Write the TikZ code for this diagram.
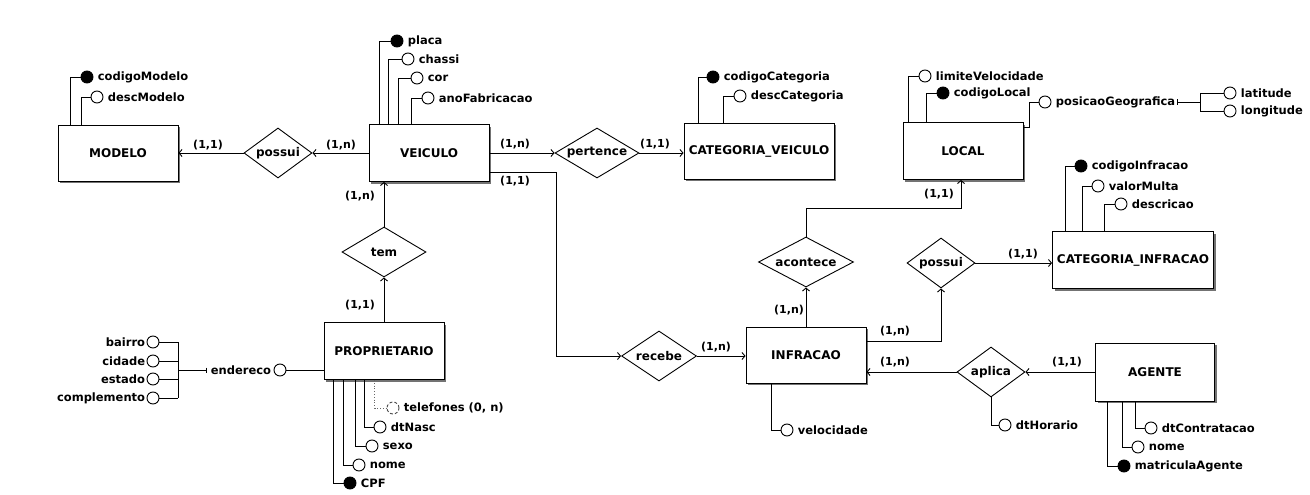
\documentclass[tikz,border=0pt]{standalone}
\usepackage{fontspec}
\setmainfont{DejaVu Sans}
\usetikzlibrary{arrows.meta,shapes.geometric,shadows}
\begin{document}
\begin{tikzpicture}[x=1pt,y=-1pt,line width=0.9pt,
  every node/.style={font=\bfseries\fontsize{11.5}{13}\selectfont},
  entity/.style={draw,fill=white,inner sep=2pt,font=\bfseries\fontsize{12}{14}\selectfont,
    drop shadow={shadow xshift=2pt,shadow yshift=-2pt,fill=black!55,opacity=1}},
  rel/.style={diamond,draw,fill=white,inner sep=0pt,aspect=2,minimum height=50pt,
    font=\bfseries\fontsize{12}{14}\selectfont},
  card/.style={inner sep=0pt,font=\bfseries\fontsize{11}{13}\selectfont},
  attr/.style={circle,draw,fill=white,minimum size=12pt,inner sep=0pt},
  key/.style={attr,fill=black},
  multi/.style={attr,draw=black!70,densely dashed},
  lbl/.style={inner sep=1pt,label distance=3pt},
  lbll/.style={inner sep=1pt,label distance=0pt},
  conn/.style={-{Straight Barb[length=3pt,width=7pt]}},
  comp/.style={{Bar[width=5pt]}-},
]
\useasboundingbox (0,0) rectangle (1310,495);

% ---------- entities ----------
\node[entity,minimum width=120pt,minimum height=56pt] (MODELO) at (118,153) {MODELO};
\node[entity,minimum width=120pt,minimum height=57pt] (VEICULO) at (429,153) {VEICULO};
\node[entity,minimum width=150pt,minimum height=56pt] (CATV) at (759,151) {CATEGORIA\_VEICULO};
\node[entity,minimum width=120pt,minimum height=57pt] (LOCAL) at (963,151) {LOCAL};
\node[entity,minimum width=161pt,minimum height=57pt] (CATI) at (1133,260) {CATEGORIA\_INFRACAO};
\node[entity,minimum width=120pt,minimum height=57pt] (PROP) at (384,351) {PROPRIETARIO};
\node[entity,minimum width=120pt,minimum height=56pt] (INFR) at (806,355) {INFRACAO};
\node[entity,minimum width=119pt,minimum height=58pt] (AGENTE) at (1155,372) {AGENTE};

% ---------- relationships ----------
\node[rel,minimum width=68pt] (possuiA) at (278,153) {possui};
\node[rel,minimum width=84pt] (pertence) at (597,153) {pertence};
\node[rel,minimum width=84pt] (tem) at (384,252) {tem};
\node[rel,minimum width=75pt] (recebe) at (659,356) {recebe};
\node[rel,minimum width=95pt] (acontece) at (806,262) {acontece};
\node[rel,minimum width=68pt] (possuiB) at (941,263) {possui};
\node[rel,minimum width=68pt] (aplica) at (991,372) {aplica};

% ---------- connectors ----------
\draw[conn] (VEICULO.west) -- (possuiA.east);
\draw[conn] (possuiA.west) -- (MODELO.east);
\draw[conn] (VEICULO.east) -- (pertence.west);
\draw[conn] (pertence.east) -- (pertence.east -| CATV.west);
\coordinate (vb) at (556,172);
\draw[conn] ([yshift=-19pt]VEICULO.east) -- (vb) |- (recebe.west);
\draw[conn] (recebe.east) -- (recebe.east -| INFR.west);
\draw[conn] (PROP.north) -- (tem.south);
\draw[conn] (tem.north) -- (tem.north |- VEICULO.south);
\draw[conn] (INFR.north) -- (acontece.south);
\coordinate (lk) at (961,208);
\draw[conn] (acontece.north) |- (lk) -- (LOCAL.south -| lk);
\draw[conn] ([yshift=14pt]INFR.east) -| (possuiB.south);
\draw[conn] (possuiB.east) -- (possuiB.east -| CATI.west);
\draw[conn] (AGENTE.west) -- (aplica.east);
\draw[conn] (aplica.west) -- (aplica.west -| INFR.east);

% ---------- cardinalities ----------
\node[card] (c1) at (208,145) {(1,1)};
\node[card] (c2) at (341,145) {(1,n)};
\node[card] (c3) at (515,144) {(1,n)};
\node[card] (c4) at (515,181) {(1,1)};
\node[card] (c5) at (655,144) {(1,1)};
\node[card] (c6) at (360,196) {(1,n)};
\node[card] (c7) at (360,305) {(1,1)};
\node[card] (c8) at (716,347) {(1,n)};
\node[card] (c9) at (789,310) {(1,n)};
\node[card] (c10) at (939,194) {(1,1)};
\node[card] (c11) at (1023,254) {(1,1)};
\node[card] (c12) at (895,331) {(1,n)};
\node[card] (c13) at (895,362) {(1,n)};
\node[card] (c14) at (1067,362) {(1,1)};

% ---------- attributes: MODELO ----------
\node[key,label={[lbl]right:codigoModelo}] (codigoModelo) at (87,77) {};
\node[attr,label={[lbl]right:descModelo}] (descModelo) at (97,97) {};
\draw ([xshift=13pt]MODELO.north west) |- (codigoModelo);
\draw ([xshift=24pt]MODELO.north west) |- (descModelo);

% ---------- attributes: VEICULO ----------
\node[key,label={[lbl]right:placa}] (placa) at (397,41) {};
\node[attr,label={[lbl]right:chassi}] (chassi) at (408,59) {};
\node[attr,label={[lbl]right:cor}] (cor) at (417,78) {};
\node[attr,label={[lbl]right:anoFabricacao}] (ano) at (428,98) {};
\draw ([xshift=11pt]VEICULO.north west) |- (placa);
\draw ([xshift=20pt]VEICULO.north west) |- (chassi);
\draw ([xshift=30pt]VEICULO.north west) |- (cor);
\draw ([xshift=43pt]VEICULO.north west) |- (ano);

% ---------- attributes: CATEGORIA_VEICULO ----------
\node[key,label={[lbl]right:codigoCategoria}] (codCat) at (713,77) {};
\node[attr,label={[lbl]right:descCategoria}] (descCat) at (740,96) {};
\draw ([xshift=15pt]CATV.north west) |- (codCat);
\draw ([xshift=40pt]CATV.north west) |- (descCat);

% ---------- attributes: LOCAL ----------
\node[attr,label={[lbl]right:limiteVelocidade}] (limite) at (925,76) {};
\node[key,label={[lbl]right:codigoLocal}] (codLocal) at (943,93) {};
\node[attr,label={[lbl,name=posGl]right:posicaoGeografica}] (posG) at (1045,102) {};
\draw ([xshift=6pt]LOCAL.north west) |- (limite);
\draw ([xshift=24pt]LOCAL.north west) |- (codLocal);
\draw ([yshift=-5pt]LOCAL.north east) -- ++(6,0) |- (posG);
\node[attr,label={[lbl]right:latitude}] (lat) at (1230,93) {};
\node[attr,label={[lbl]right:longitude}] (lon) at (1230,111) {};
\coordinate (pg) at (1200,102);
\draw[comp] (posGl.east) -- (pg);
\draw (lat -| pg) -- (lon -| pg);
\draw (lat) -- (lat -| pg);
\draw (lon) -- (lon -| pg);

% ---------- attributes: CATEGORIA_INFRACAO ----------
\node[key,label={[lbl]right:codigoInfracao}] (codInf) at (1081,166) {};
\node[attr,label={[lbl]right:valorMulta}] (valor) at (1098,186) {};
\node[attr,label={[lbl]right:descricao}] (descr) at (1121,204) {};
\draw ([xshift=13pt]CATI.north west) |- (codInf);
\draw ([xshift=30pt]CATI.north west) |- (valor);
\draw ([xshift=52pt]CATI.north west) |- (descr);

% ---------- attributes: PROPRIETARIO ----------
\node[key,label={[lbl]right:CPF}] (cpf) at (350,483) {};
\node[attr,label={[lbl]right:nome}] (nomeP) at (359,465) {};
\node[attr,label={[lbl]right:sexo}] (sexo) at (372,446) {};
\node[attr,label={[lbl]right:dtNasc}] (dtNasc) at (380,427) {};
\node[multi,label={[lbl]right:telefones (0, n)}] (tel) at (393,408) {};
\draw ([xshift=10pt]PROP.south west) |- (cpf);
\draw ([xshift=20pt]PROP.south west) |- (nomeP);
\draw ([xshift=32pt]PROP.south west) |- (sexo);
\draw ([xshift=41pt]PROP.south west) |- (dtNasc);
\draw[black!60,dotted,line width=0.8pt] ([xshift=51pt]PROP.south west) |- (tel);

\node[attr,label={[lbll,name=endl,label distance=1pt]left:endereco}] (end) at (280,370) {};
\draw (end) -- (PROP.west |- end);
\coordinate (ec) at (178,370);
\draw[comp] ([xshift=-3pt]endl.west) -- (ec);
\node[attr,label={[lbll]left:bairro}] (bairro) at (153,342) {};
\node[attr,label={[lbll]left:cidade}] (cidade) at (153,361) {};
\node[attr,label={[lbll]left:estado}] (estado) at (153,379) {};
\node[attr,label={[lbll]left:complemento}] (compl) at (153,398) {};
\draw (bairro -| ec) -- (compl -| ec);
\draw (bairro) -- (bairro -| ec);
\draw (cidade) -- (cidade -| ec);
\draw (estado) -- (estado -| ec);
\draw (compl) -- (compl -| ec);

% ---------- attributes: INFRACAO, aplica ----------
\node[attr,label={[lbl]right:velocidade}] (velo) at (787,430) {};
\draw ([xshift=26pt]INFR.south west) |- (velo);
\node[attr,label={[lbl]right:dtHorario}] (dtH) at (1005,425) {};
\draw (aplica.south) |- (dtH);

% ---------- attributes: AGENTE ----------
\node[key,label={[lbl]right:matriculaAgente}] (matr) at (1124,466) {};
\node[attr,label={[lbl]right:nome}] (nomeA) at (1138,447) {};
\node[attr,label={[lbl]right:dtContratacao}] (dtC) at (1151,428) {};
\draw ([xshift=12pt]AGENTE.south west) |- (matr);
\draw ([xshift=27pt]AGENTE.south west) |- (nomeA);
\draw ([xshift=40pt]AGENTE.south west) |- (dtC);
\end{tikzpicture}
\end{document}
